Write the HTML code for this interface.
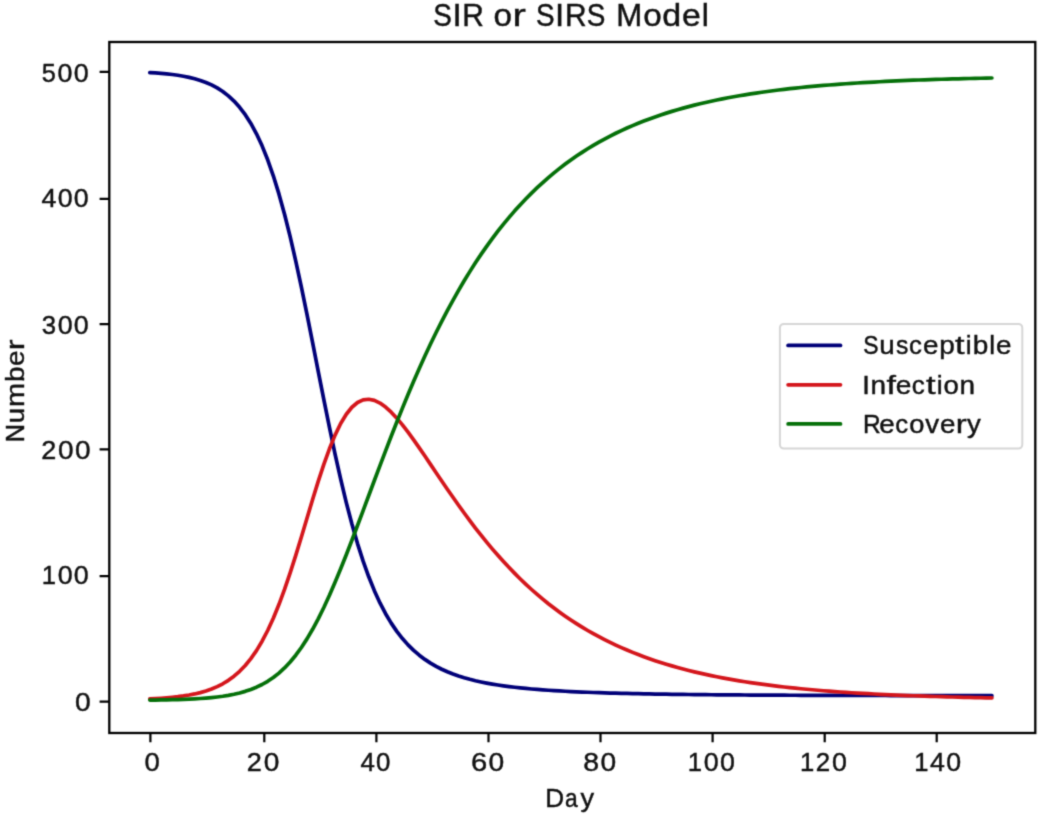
<!DOCTYPE html>
<html><head><meta charset="utf-8"><title>SIR or SIRS Model</title>
<style>html,body{margin:0;padding:0;background:#fff;overflow:hidden}svg{display:block}</style>
</head><body><svg width="1046" height="822" viewBox="0 0 1046 822"><defs><filter id="bl" filterUnits="userSpaceOnUse" x="0" y="0" width="1046" height="822" color-interpolation-filters="sRGB"><feConvolveMatrix order="3" kernelMatrix="0.02768 0.11101 0.02768 0.11101 0.44521 0.11101 0.02768 0.11101 0.02768" edgeMode="duplicate" preserveAlpha="true"/></filter></defs><g filter="url(#bl)"><rect x="0" y="0" width="1046" height="822" fill="#fff"/><clipPath id="c"><rect x="109.3" y="42.0" width="926.0" height="691.0"/></clipPath><g clip-path="url(#c)" fill="none" stroke-width="3.70" stroke-linecap="round" stroke-linejoin="round"><polyline stroke="#000078" points="149.80,72.61 155.41,72.95 161.03,73.38 166.64,73.89 172.26,74.52 177.87,75.29 183.48,76.23 189.10,77.36 194.71,78.74 200.33,80.42 205.94,82.46 211.55,84.93 217.17,87.92 222.78,91.52 228.40,95.86 234.01,101.06 239.62,107.28 245.24,114.69 250.85,123.45 256.47,133.77 262.08,145.82 267.69,159.77 273.31,175.77 278.92,193.92 284.54,214.23 290.15,236.66 295.76,261.04 301.38,287.10 306.99,314.48 312.61,342.72 318.22,371.31 323.83,399.73 329.45,427.46 335.06,454.07 340.68,479.20 346.29,502.58 351.90,524.07 357.52,543.58 363.13,561.13 368.75,576.79 374.36,590.67 379.97,602.92 385.59,613.68 391.20,623.11 396.82,631.36 402.43,638.56 408.04,644.86 413.66,650.37 419.27,655.19 424.89,659.41 430.50,663.11 436.11,666.36 441.73,669.23 447.34,671.76 452.96,674.00 458.57,675.98 464.18,677.74 469.80,679.31 475.41,680.72 481.03,681.97 486.64,683.10 492.25,684.11 497.87,685.03 503.48,685.85 509.10,686.60 514.71,687.28 520.32,687.89 525.94,688.46 531.55,688.97 537.17,689.44 542.78,689.87 548.39,690.26 554.01,690.62 559.62,690.95 565.24,691.26 570.85,691.54 576.46,691.81 582.08,692.05 587.69,692.27 593.31,692.48 598.92,692.68 604.53,692.86 610.15,693.03 615.76,693.18 621.38,693.33 626.99,693.46 632.60,693.59 638.22,693.71 643.83,693.82 649.45,693.93 655.06,694.03 660.67,694.12 666.29,694.21 671.90,694.29 677.52,694.36 683.13,694.44 688.74,694.50 694.36,694.57 699.97,694.63 705.59,694.69 711.20,694.74 716.81,694.79 722.43,694.84 728.04,694.88 733.66,694.93 739.27,694.97 744.88,695.00 750.50,695.04 756.11,695.08 761.73,695.11 767.34,695.14 772.95,695.17 778.57,695.20 784.18,695.22 789.80,695.25 795.41,695.27 801.02,695.29 806.64,695.31 812.25,695.33 817.87,695.35 823.48,695.37 829.09,695.39 834.71,695.40 840.32,695.42 845.94,695.43 851.55,695.45 857.16,695.46 862.78,695.47 868.39,695.49 874.01,695.50 879.62,695.51 885.23,695.52 890.85,695.53 896.46,695.54 902.08,695.55 907.69,695.55 913.30,695.56 918.92,695.57 924.53,695.58 930.15,695.58 935.76,695.59 941.37,695.60 946.99,695.60 952.60,695.61 958.22,695.61 963.83,695.62 969.44,695.62 975.06,695.63 980.67,695.63 986.29,695.64 991.90,695.64"/><polyline stroke="#d4161c" points="149.80,698.84 155.41,698.56 161.03,698.23 166.64,697.81 172.26,697.31 177.87,696.70 183.48,695.95 189.10,695.04 194.71,693.94 200.33,692.60 205.94,690.98 211.55,689.01 217.17,686.64 222.78,683.78 228.40,680.34 234.01,676.23 239.62,671.32 245.24,665.49 250.85,658.62 256.47,650.58 262.08,641.23 267.69,630.49 273.31,618.26 278.92,604.55 284.54,589.39 290.15,572.90 295.76,555.32 301.38,536.95 306.99,518.19 312.61,499.52 318.22,481.41 323.83,464.36 329.45,448.81 335.06,435.12 340.68,423.54 346.29,414.22 351.90,407.22 357.52,402.48 363.13,399.89 368.75,399.26 374.36,400.40 379.97,403.07 385.59,407.07 391.20,412.17 396.82,418.17 402.43,424.89 408.04,432.17 413.66,439.87 419.27,447.87 424.89,456.05 430.50,464.35 436.11,472.67 441.73,480.97 447.34,489.19 452.96,497.30 458.57,505.25 464.18,513.04 469.80,520.63 475.41,528.01 481.03,535.18 486.64,542.13 492.25,548.84 497.87,555.33 503.48,561.58 509.10,567.61 514.71,573.41 520.32,578.99 525.94,584.35 531.55,589.49 537.17,594.43 542.78,599.17 548.39,603.71 554.01,608.05 559.62,612.22 565.24,616.21 570.85,620.02 576.46,623.67 582.08,627.16 587.69,630.50 593.31,633.69 598.92,636.74 604.53,639.65 610.15,642.44 615.76,645.10 621.38,647.64 626.99,650.06 632.60,652.38 638.22,654.59 643.83,656.70 649.45,658.71 655.06,660.64 660.67,662.47 666.29,664.22 671.90,665.89 677.52,667.49 683.13,669.01 688.74,670.46 694.36,671.84 699.97,673.16 705.59,674.42 711.20,675.62 716.81,676.76 722.43,677.85 728.04,678.89 733.66,679.89 739.27,680.83 744.88,681.74 750.50,682.60 756.11,683.42 761.73,684.20 767.34,684.94 772.95,685.65 778.57,686.33 784.18,686.98 789.80,687.59 795.41,688.18 801.02,688.74 806.64,689.27 812.25,689.78 817.87,690.27 823.48,690.73 829.09,691.17 834.71,691.59 840.32,691.99 845.94,692.37 851.55,692.73 857.16,693.08 862.78,693.41 868.39,693.72 874.01,694.02 879.62,694.31 885.23,694.58 890.85,694.84 896.46,695.09 902.08,695.32 907.69,695.55 913.30,695.76 918.92,695.97 924.53,696.16 930.15,696.35 935.76,696.52 941.37,696.69 946.99,696.85 952.60,697.01 958.22,697.15 963.83,697.29 969.44,697.42 975.06,697.55 980.67,697.67 986.29,697.78 991.90,697.89"/><polyline stroke="#057009" points="149.80,700.10 155.41,700.03 161.03,699.95 166.64,699.84 172.26,699.72 177.87,699.56 183.48,699.37 189.10,699.14 194.71,698.86 200.33,698.52 205.94,698.11 211.55,697.61 217.17,696.99 222.78,696.25 228.40,695.35 234.01,694.26 239.62,692.95 245.24,691.37 250.85,689.47 256.47,687.20 262.08,684.50 267.69,681.29 273.31,677.51 278.92,673.09 284.54,667.93 290.15,661.99 295.76,655.20 301.38,647.50 306.99,638.87 312.61,629.31 318.22,618.83 323.83,607.46 329.45,595.28 335.06,582.36 340.68,568.81 346.29,554.74 351.90,540.27 357.52,525.49 363.13,510.54 368.75,495.50 374.36,480.48 379.97,465.56 385.59,450.80 391.20,436.28 396.82,422.03 402.43,408.09 408.04,394.51 413.66,381.31 419.27,368.50 424.89,356.09 430.50,344.09 436.11,332.51 441.73,321.35 447.34,310.60 452.96,300.26 458.57,290.32 464.18,280.77 469.80,271.61 475.41,262.82 481.03,254.39 486.64,246.32 492.25,238.59 497.87,231.19 503.48,224.11 509.10,217.34 514.71,210.86 520.32,204.67 525.94,198.75 531.55,193.09 537.17,187.68 542.78,182.52 548.39,177.58 554.01,172.87 559.62,168.38 565.24,164.08 570.85,159.98 576.46,156.07 582.08,152.34 587.69,148.78 593.31,145.38 598.92,142.13 604.53,139.04 610.15,136.09 615.76,133.27 621.38,130.58 626.99,128.02 632.60,125.58 638.22,123.25 643.83,121.03 649.45,118.91 655.06,116.89 660.67,114.96 666.29,113.12 671.90,111.37 677.52,109.70 683.13,108.11 688.74,106.59 694.36,105.14 699.97,103.76 705.59,102.45 711.20,101.19 716.81,100.00 722.43,98.86 728.04,97.77 733.66,96.74 739.27,95.75 744.88,94.81 750.50,93.91 756.11,93.06 761.73,92.24 767.34,91.47 772.95,90.73 778.57,90.02 784.18,89.35 789.80,88.71 795.41,88.10 801.02,87.52 806.64,86.96 812.25,86.43 817.87,85.93 823.48,85.45 829.09,84.99 834.71,84.56 840.32,84.14 845.94,83.75 851.55,83.37 857.16,83.01 862.78,82.67 868.39,82.34 874.01,82.03 879.62,81.73 885.23,81.45 890.85,81.18 896.46,80.92 902.08,80.68 907.69,80.45 913.30,80.22 918.92,80.01 924.53,79.81 930.15,79.62 935.76,79.43 941.37,79.26 946.99,79.09 952.60,78.94 958.22,78.78 963.83,78.64 969.44,78.50 975.06,78.37 980.67,78.25 986.29,78.13 991.90,78.02"/></g><rect x="109.3" y="42.0" width="926.00" height="691.00" fill="none" stroke="#000" stroke-width="2.3" stroke-linejoin="miter"/><path d="M150.40 733.00v9.2 M264.30 733.00v9.2 M376.40 733.00v9.2 M488.50 733.00v9.2 M600.50 733.00v9.2 M712.60 733.00v9.2 M824.70 733.00v9.2 M936.70 733.00v9.2 M109.30 701.55h-9.7 M109.30 576.20h-9.7 M109.30 449.40h-9.7 M109.30 324.10h-9.7 M109.30 198.90h-9.7 M109.30 71.90h-9.7" stroke="#000" stroke-width="2.2" fill="none"/><rect x="779.9" y="323.9" width="242.40" height="124.70" rx="4.0" ry="4.0" fill="#fff" fill-opacity="0.8" stroke="#d6d6d6" stroke-width="2.0"/><path d="M788.1 345.4H840.5" stroke="#000078" stroke-width="3.7" stroke-linecap="round"/><path d="M788.1 384.8H840.5" stroke="#d4161c" stroke-width="3.7" stroke-linecap="round"/><path d="M788.1 423.9H840.5" stroke="#057009" stroke-width="3.7" stroke-linecap="round"/><g font-family="'Liberation Sans', sans-serif" font-size="100" fill="#111" stroke="#111"><text transform="matrix(0.27881 0 0 0.31861 433.33 26.00)" stroke-width="1.51">S</text><text transform="matrix(0.33077 0 0 0.31861 452.41 26.00)" stroke-width="1.39">I</text><text transform="matrix(0.29913 0 0 0.31861 462.23 26.00)" stroke-width="1.46">R</text><text transform="matrix(0.33249 0 0 0.31861 493.62 26.00)" stroke-width="1.38">o</text><text transform="matrix(0.40073 0 0 0.31861 512.60 26.00)" stroke-width="1.25">r</text><text transform="matrix(0.27881 0 0 0.31861 536.02 26.00)" stroke-width="1.51">S</text><text transform="matrix(0.33077 0 0 0.31861 555.09 26.00)" stroke-width="1.39">I</text><text transform="matrix(0.29913 0 0 0.31861 564.92 26.00)" stroke-width="1.46">R</text><text transform="matrix(0.27881 0 0 0.31861 586.83 26.00)" stroke-width="1.51">S</text><text transform="matrix(0.31185 0 0 0.31861 616.34 26.00)" stroke-width="1.43">M</text><text transform="matrix(0.33249 0 0 0.31861 643.14 26.00)" stroke-width="1.38">o</text><text transform="matrix(0.33993 0 0 0.31861 662.25 26.00)" stroke-width="1.37">d</text><text transform="matrix(0.33782 0 0 0.31861 682.09 26.00)" stroke-width="1.37">e</text><text transform="matrix(0.31971 0 0 0.31861 701.84 26.00)" stroke-width="1.41">l</text><text transform="matrix(0.22931 0 0 0.26481 863.26 354.40)" stroke-width="1.82">S</text><text transform="matrix(0.27734 0 0 0.26481 879.32 354.40)" stroke-width="1.66">u</text><text transform="matrix(0.24658 0 0 0.26481 895.94 354.40)" stroke-width="1.76">s</text><text transform="matrix(0.25811 0 0 0.26481 908.96 354.40)" stroke-width="1.72">c</text><text transform="matrix(0.27785 0 0 0.26481 923.02 354.40)" stroke-width="1.66">e</text><text transform="matrix(0.27986 0 0 0.26481 939.14 354.40)" stroke-width="1.65">p</text><text transform="matrix(0.34380 0 0 0.26481 955.11 354.40)" stroke-width="1.48">t</text><text transform="matrix(0.26295 0 0 0.26481 965.69 354.40)" stroke-width="1.71">i</text><text transform="matrix(0.27986 0 0 0.26481 972.70 354.40)" stroke-width="1.65">b</text><text transform="matrix(0.26295 0 0 0.26481 989.15 354.40)" stroke-width="1.71">l</text><text transform="matrix(0.27785 0 0 0.26481 995.88 354.40)" stroke-width="1.66">e</text><text transform="matrix(0.27438 0 0 0.26481 862.37 393.80)" stroke-width="1.67">I</text><text transform="matrix(0.27972 0 0 0.26481 870.50 393.80)" stroke-width="1.65">n</text><text transform="matrix(0.34066 0 0 0.26481 886.56 393.80)" stroke-width="1.49">f</text><text transform="matrix(0.28023 0 0 0.26481 895.82 393.80)" stroke-width="1.65">e</text><text transform="matrix(0.26032 0 0 0.26481 911.87 393.80)" stroke-width="1.71">c</text><text transform="matrix(0.34675 0 0 0.26481 925.98 393.80)" stroke-width="1.47">t</text><text transform="matrix(0.26521 0 0 0.26481 936.65 393.80)" stroke-width="1.70">i</text><text transform="matrix(0.27581 0 0 0.26481 943.46 393.80)" stroke-width="1.66">o</text><text transform="matrix(0.27972 0 0 0.26481 959.56 393.80)" stroke-width="1.65">n</text><text transform="matrix(0.24543 0 0 0.26481 862.89 433.10)" stroke-width="1.76">R</text><text transform="matrix(0.27717 0 0 0.26481 879.30 433.10)" stroke-width="1.66">e</text><text transform="matrix(0.25748 0 0 0.26481 895.17 433.10)" stroke-width="1.72">c</text><text transform="matrix(0.27280 0 0 0.26481 909.23 433.10)" stroke-width="1.67">o</text><text transform="matrix(0.27694 0 0 0.26481 925.32 433.10)" stroke-width="1.66">v</text><text transform="matrix(0.27717 0 0 0.26481 940.08 433.10)" stroke-width="1.66">e</text><text transform="matrix(0.32878 0 0 0.26481 955.78 433.10)" stroke-width="1.52">r</text><text transform="matrix(0.27557 0 0 0.26481 966.88 433.10)" stroke-width="1.67">y</text><text transform="matrix(0.26164 0 0 0.26375 545.25 806.80)" stroke-width="1.71">D</text><text transform="matrix(0.22741 0 0 0.26375 564.94 806.80)" stroke-width="1.83">a</text><text transform="matrix(0.27157 0 0 0.26375 580.57 806.80)" stroke-width="1.68">y</text><text transform="matrix(0.25334 0 0 0.25953 41.74 81.60)" stroke-width="1.75">5</text><text transform="matrix(0.26844 0 0 0.25953 57.62 81.60)" stroke-width="1.70">0</text><text transform="matrix(0.26844 0 0 0.25953 73.82 81.60)" stroke-width="1.70">0</text><text transform="matrix(0.26747 0 0 0.25953 41.59 206.80)" stroke-width="1.71">4</text><text transform="matrix(0.26743 0 0 0.25953 57.73 206.80)" stroke-width="1.71">0</text><text transform="matrix(0.26743 0 0 0.25953 73.87 206.80)" stroke-width="1.71">0</text><text transform="matrix(0.25766 0 0 0.25953 41.77 333.80)" stroke-width="1.74">3</text><text transform="matrix(0.26829 0 0 0.25953 57.63 333.80)" stroke-width="1.71">0</text><text transform="matrix(0.26829 0 0 0.25953 73.83 333.80)" stroke-width="1.71">0</text><text transform="matrix(0.26995 0 0 0.25953 41.14 459.30)" stroke-width="1.70">2</text><text transform="matrix(0.28006 0 0 0.25953 58.11 459.30)" stroke-width="1.67">0</text><text transform="matrix(0.28006 0 0 0.25953 75.02 459.30)" stroke-width="1.67">0</text><text transform="matrix(0.25629 0 0 0.25953 41.65 584.45)" stroke-width="1.74">1</text><text transform="matrix(0.26834 0 0 0.25953 57.63 584.45)" stroke-width="1.70">0</text><text transform="matrix(0.26834 0 0 0.25953 73.82 584.45)" stroke-width="1.70">0</text><text transform="matrix(0.28241 0 0 0.25953 75.10 711.35)" stroke-width="1.66">0</text><text transform="matrix(0.27488 0 0 0.25953 144.59 771.10)" stroke-width="1.68">0</text><text transform="matrix(0.27088 0 0 0.25953 246.84 771.10)" stroke-width="1.70">2</text><text transform="matrix(0.28103 0 0 0.25953 263.87 771.10)" stroke-width="1.66">0</text><text transform="matrix(0.25873 0 0 0.25953 360.41 771.10)" stroke-width="1.74">4</text><text transform="matrix(0.25870 0 0 0.25953 376.02 771.10)" stroke-width="1.74">0</text><text transform="matrix(0.29190 0 0 0.25953 471.12 771.10)" stroke-width="1.63">6</text><text transform="matrix(0.28204 0 0 0.25953 488.42 771.10)" stroke-width="1.66">0</text><text transform="matrix(0.28460 0 0 0.25953 583.36 771.10)" stroke-width="1.65">8</text><text transform="matrix(0.28155 0 0 0.25953 600.44 771.10)" stroke-width="1.66">0</text><text transform="matrix(0.25629 0 0 0.25953 687.85 771.10)" stroke-width="1.74">1</text><text transform="matrix(0.26834 0 0 0.25953 703.83 771.10)" stroke-width="1.70">0</text><text transform="matrix(0.26834 0 0 0.25953 720.02 771.10)" stroke-width="1.70">0</text><text transform="matrix(0.25629 0 0 0.25953 799.95 771.10)" stroke-width="1.74">1</text><text transform="matrix(0.25865 0 0 0.25953 815.86 771.10)" stroke-width="1.74">2</text><text transform="matrix(0.26834 0 0 0.25953 832.12 771.10)" stroke-width="1.70">0</text><text transform="matrix(0.25512 0 0 0.25953 914.16 771.10)" stroke-width="1.75">1</text><text transform="matrix(0.26715 0 0 0.25953 930.06 771.10)" stroke-width="1.71">4</text><text transform="matrix(0.26712 0 0 0.25953 946.19 771.10)" stroke-width="1.71">0</text><g transform="matrix(0 -1 1 0 0 440.2)"><text transform="matrix(0.25280 0 0 0.26375 -2.07 24.00)" stroke-width="1.74">N</text><text transform="matrix(0.27594 0 0 0.26375 17.02 24.00)" stroke-width="1.67">u</text><text transform="matrix(0.29161 0 0 0.26375 33.24 24.00)" stroke-width="1.62">m</text><text transform="matrix(0.27845 0 0 0.26375 58.32 24.00)" stroke-width="1.66">b</text><text transform="matrix(0.27644 0 0 0.26375 74.27 24.00)" stroke-width="1.67">e</text><text transform="matrix(0.32792 0 0 0.26375 89.92 24.00)" stroke-width="1.52">r</text></g></g></g></svg></body></html>
